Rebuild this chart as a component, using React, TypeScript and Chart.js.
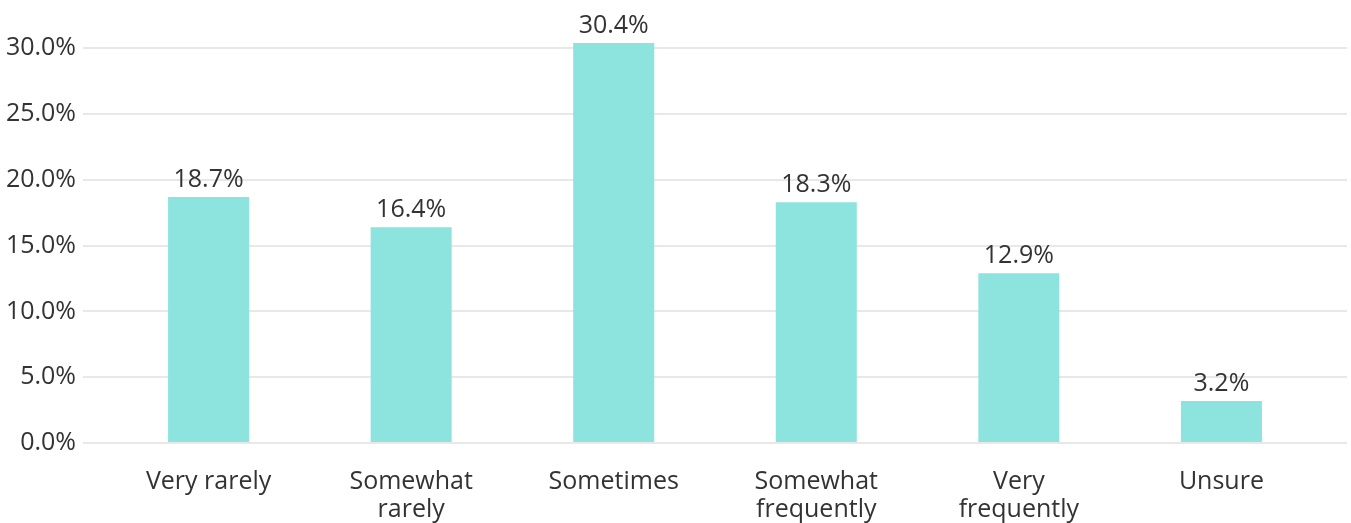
import React, { useEffect, useRef } from "react";
import { Chart, registerables } from "chart.js";

Chart.register(...registerables);

const categories = [
  "Very rarely",
  "Somewhat\nrarely",
  "Sometimes",
  "Somewhat\nfrequently",
  "Very\nfrequently",
  "Unsure",
];
const values = [18.7, 16.4, 30.4, 18.3, 12.9, 3.2];
const yTicks = [0, 5, 10, 15, 20, 25, 30];

const FONT = "'Open Sans', 'Noto Sans', sans-serif";
const TEXT = "#333333";
const FS = 25;

const valueLabels = {
  id: "valueLabels",
  afterDatasetsDraw(chart: any) {
    const ctx = chart.ctx;
    const meta = chart.getDatasetMeta(0);
    ctx.save();
    ctx.font = `${FS}px ${FONT}`;
    ctx.fillStyle = TEXT;
    ctx.textAlign = "center";
    ctx.textBaseline = "alphabetic";
    meta.data.forEach((bar: any, i: number) => {
      ctx.fillText(values[i].toFixed(1) + "%", bar.x, bar.y - 10);
    });
    ctx.restore();
  },
};

export default function App() {
  const ref = useRef<HTMLCanvasElement>(null);
  useEffect(() => {
    if (!ref.current) return;
    const chart = new Chart(ref.current, {
      type: "bar",
      data: {
        datasets: [
          {
            data: values.map((v, i) => ({ x: i, y: v })),
            backgroundColor: "#8de3dd",
            borderWidth: 0,
            categoryPercentage: 1,
            barPercentage: 0.4,
          },
        ],
      },
      options: {
        animation: false,
        responsive: false,
        maintainAspectRatio: false,
        layout: { padding: { top: 17.5, right: 4, left: 0, bottom: 0 } },
        plugins: {
          legend: { display: false },
          tooltip: { enabled: false },
        },
        scales: {
          x: {
            type: "linear",
            offset: false,
            min: -0.62,
            max: 5.62,
            afterBuildTicks: (axis: any) => {
              axis.ticks = categories.map((_, i) => ({ value: i }));
            },
            afterFit: (scale: any) => {
              scale.height = 80;
            },
            grid: { display: false },
            border: { display: false },
            ticks: {
              autoSkip: false,
              maxRotation: 0,
              padding: 16,
              color: TEXT,
              font: { family: FONT, size: FS, lineHeight: 1.15 },
              callback: (v: any) => {
                const s = categories[Math.round(v)];
                return s ? s.split("\n") : "";
              },
            },
          },
          y: {
            min: 0,
            max: 32,
            afterBuildTicks: (axis: any) => {
              axis.ticks = yTicks.map((v) => ({ value: v }));
            },
            afterFit: (scale: any) => {
              scale.width = 83;
            },
            grid: { color: "#e8e8e8", lineWidth: 2, drawTicks: false },
            border: { display: false },
            ticks: {
              padding: 7,
              color: TEXT,
              font: { family: FONT, size: FS },
              callback: (v: any) => Number(v).toFixed(1) + "%",
            },
          },
        },
      },
      plugins: [valueLabels],
    });
    return () => chart.destroy();
  }, []);
  return (
    <div style={{ position: "absolute", left: 0, top: 0, width: 1351, height: 523, background: "#fff" }}>
      <canvas ref={ref} width={1351} height={523} style={{ display: "block" }} />
    </div>
  );
}
